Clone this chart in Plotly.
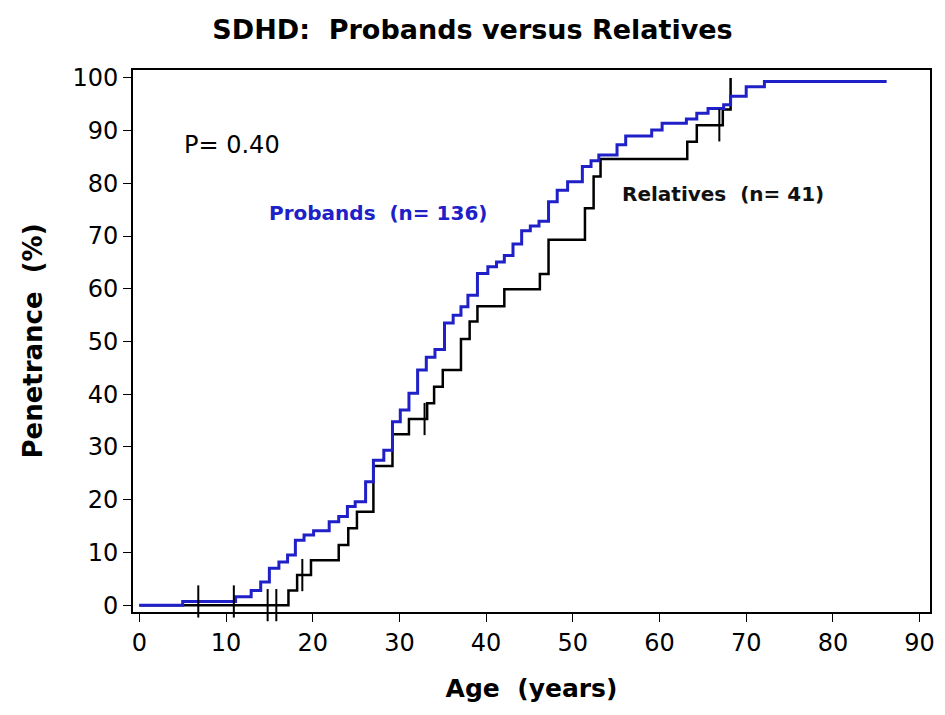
import plotly.graph_objects as go

# Kaplan-Meier style cumulative penetrance (%) by age for SDHD carriers
proband_age = [0, 5.0, 11.1, 12.9, 14.0, 15.0, 16.1, 17.1, 18.0, 19.0, 20.1, 21.9, 23.0,
               24.0, 24.9, 26.1, 27.0, 28.2, 29.2, 30.1, 31.1, 32.1, 33.1, 34.1, 35.2,
               36.2, 37.1, 37.9, 39.0, 40.2, 41.2, 42.1, 43.1, 44.1, 45.1, 46.1, 47.2,
               48.2, 49.4, 51.1, 52.1, 53.0, 55.1, 56.1, 59.1, 60.3, 63.1, 64.3, 65.6,
               67.4, 68.2, 70.0, 72.1, 86.2]
proband_pen = [0, 0.7, 1.6, 2.8, 4.4, 7.0, 8.2, 9.5, 12.3, 13.3, 14.1, 15.8, 16.8,
               18.7, 19.6, 23.4, 27.5, 29.4, 34.8, 37.0, 40.2, 44.6, 47.0, 48.5, 53.5,
               55.0, 56.6, 58.8, 62.9, 64.2, 65.1, 66.3, 68.5, 71.0, 71.9, 72.8, 76.5,
               78.7, 80.3, 83.2, 84.3, 85.4, 87.3, 89.0, 90.1, 91.4, 92.2, 93.3, 94.2,
               94.9, 96.5, 98.3, 99.3, 99.3]

relative_age = [0, 17.2, 18.2, 19.8, 23.0, 24.1, 25.1, 27.0, 29.2, 31.1, 33.2, 34.0, 35.0,
                37.1, 38.1, 39.0, 42.1, 46.2, 47.2, 51.4, 52.4, 53.2, 63.2, 64.3, 67.3, 68.2]
relative_pen = [0, 2.8, 5.7, 8.5, 11.4, 14.6, 17.7, 26.4, 32.4, 35.3, 38.3, 41.4, 44.6,
                50.5, 53.8, 56.7, 59.9, 62.8, 69.3, 75.3, 81.3, 84.6, 87.9, 91.0, 94.0, 100.0]

# censored observations
proband_cens_age = [6.8, 10.9]
proband_cens_pen = [0.7, 0.7]
relative_cens_age = [14.8, 15.8, 18.8, 32.9, 66.9]
relative_cens_pen = [0, 0, 5.7, 35.3, 91.0]

x_ticks = list(range(0, 91, 10))
y_ticks = list(range(0, 101, 10))

BLUE = "#2020c8"
FONT = "DejaVu Sans, Arial, sans-serif"

fig = go.Figure()

fig.add_trace(go.Scatter(x=relative_age, y=relative_pen, mode="lines",
                         line=dict(color="black", width=2.5, shape="hv"),
                         cliponaxis=False, showlegend=False))
fig.add_trace(go.Scatter(x=proband_age, y=proband_pen, mode="lines",
                         line=dict(color=BLUE, width=3, shape="hv"),
                         cliponaxis=False, showlegend=False))
fig.add_trace(go.Scatter(x=relative_cens_age, y=relative_cens_pen, mode="markers",
                         marker=dict(symbol="line-ns", size=23,
                                     line=dict(color="black", width=2)),
                         cliponaxis=False, showlegend=False))
fig.add_trace(go.Scatter(x=proband_cens_age, y=proband_cens_pen, mode="markers",
                         marker=dict(symbol="line-ns", size=23,
                                     line=dict(color="black", width=2)),
                         cliponaxis=False, showlegend=False))

fig.add_annotation(x=4.9, y=87.3, text="P= 0.40", showarrow=False, xanchor="left",
                   font=dict(family=FONT, size=24, color="black"))
fig.add_annotation(x=14.7, y=74.4, text="<b>Probands  (n= 136)</b>", showarrow=False,
                   xanchor="left", font=dict(family=FONT, size=20, color=BLUE))
fig.add_annotation(x=55.4, y=78.0, text="<b>Relatives  (n= 41)</b>", showarrow=False,
                   xanchor="left", font=dict(family=FONT, size=20, color="#111111"))

axis_common = dict(showline=True, linecolor="black", linewidth=2, mirror=True,
                   ticks="outside", ticklen=8, tickwidth=1, tickcolor="black",
                   showgrid=False, zeroline=False,
                   tickfont=dict(family=FONT, size=24, color="black"))

fig.update_layout(
    width=945, height=715,
    margin=dict(l=133, r=10, t=70, b=103),
    paper_bgcolor="white", plot_bgcolor="white",
    title=dict(text="<b>SDHD:  Probands versus Relatives</b>", x=0.5, xanchor="center",
               y=0.958, yanchor="middle",
               font=dict(family=FONT, size=27, color="black")),
    xaxis=dict(range=[-0.73, 91.2], tickvals=x_ticks,
               title=dict(text="<b>Age  (years)</b>", standoff=24,
                          font=dict(family=FONT, size=25, color="black")),
               **axis_common),
    yaxis=dict(range=[-1.3, 101.5], tickvals=y_ticks,
               title=dict(text="<b>Penetrance  (%)</b>", standoff=22,
                          font=dict(family=FONT, size=26, color="black")),
               **axis_common),
)

fig.write_html("out.html")
